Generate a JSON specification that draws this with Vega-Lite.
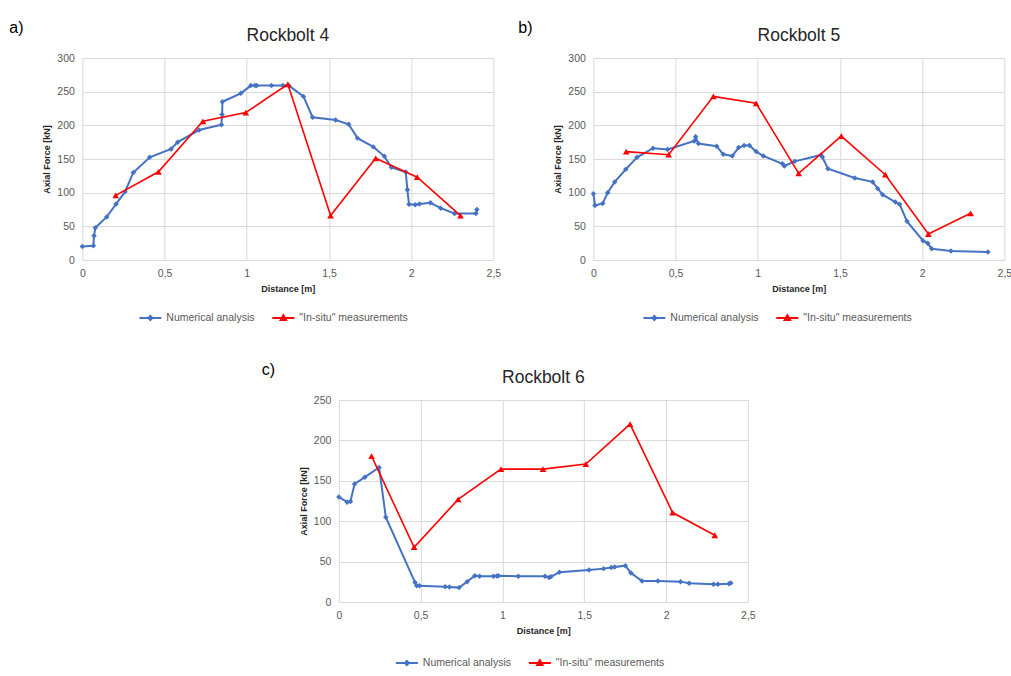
{
  "$schema": "https://vega.github.io/schema/vega-lite/v6.json",
  "padding": {"left": 9, "top": 19, "right": 0, "bottom": 0},
  "background": "white",
  "datasets": {
    "rb4": [
      {"d": 0, "f": 20, "s": "Numerical analysis"},
      {"d": 0.067, "f": 21, "s": "Numerical analysis"},
      {"d": 0.071, "f": 36, "s": "Numerical analysis"},
      {"d": 0.079, "f": 48, "s": "Numerical analysis"},
      {"d": 0.148, "f": 64, "s": "Numerical analysis"},
      {"d": 0.205, "f": 83, "s": "Numerical analysis"},
      {"d": 0.26, "f": 101.5, "s": "Numerical analysis"},
      {"d": 0.31, "f": 130, "s": "Numerical analysis"},
      {"d": 0.41, "f": 152.5, "s": "Numerical analysis"},
      {"d": 0.54, "f": 165, "s": "Numerical analysis"},
      {"d": 0.58, "f": 175, "s": "Numerical analysis"},
      {"d": 0.71, "f": 193, "s": "Numerical analysis"},
      {"d": 0.846, "f": 201, "s": "Numerical analysis"},
      {"d": 0.85, "f": 216, "s": "Numerical analysis"},
      {"d": 0.852, "f": 235, "s": "Numerical analysis"},
      {"d": 0.964, "f": 247.5, "s": "Numerical analysis"},
      {"d": 1.025, "f": 259, "s": "Numerical analysis"},
      {"d": 1.05, "f": 259, "s": "Numerical analysis"},
      {"d": 1.06, "f": 259, "s": "Numerical analysis"},
      {"d": 1.15, "f": 259, "s": "Numerical analysis"},
      {"d": 1.22, "f": 259, "s": "Numerical analysis"},
      {"d": 1.256, "f": 259, "s": "Numerical analysis"},
      {"d": 1.345, "f": 243, "s": "Numerical analysis"},
      {"d": 1.4, "f": 212, "s": "Numerical analysis"},
      {"d": 1.54, "f": 208, "s": "Numerical analysis"},
      {"d": 1.62, "f": 201.5, "s": "Numerical analysis"},
      {"d": 1.674, "f": 181, "s": "Numerical analysis"},
      {"d": 1.77, "f": 168, "s": "Numerical analysis"},
      {"d": 1.837, "f": 154, "s": "Numerical analysis"},
      {"d": 1.88, "f": 137.6, "s": "Numerical analysis"},
      {"d": 1.967, "f": 130.7, "s": "Numerical analysis"},
      {"d": 1.977, "f": 104.5, "s": "Numerical analysis"},
      {"d": 1.987, "f": 82.7, "s": "Numerical analysis"},
      {"d": 2.025, "f": 82, "s": "Numerical analysis"},
      {"d": 2.05, "f": 83, "s": "Numerical analysis"},
      {"d": 2.117, "f": 85, "s": "Numerical analysis"},
      {"d": 2.18, "f": 77, "s": "Numerical analysis"},
      {"d": 2.264, "f": 69, "s": "Numerical analysis"},
      {"d": 2.394, "f": 69, "s": "Numerical analysis"},
      {"d": 2.4, "f": 75, "s": "Numerical analysis"},
      {"d": 0.203, "f": 96, "s": "\"In-situ\" measurements"},
      {"d": 0.463, "f": 131, "s": "\"In-situ\" measurements"},
      {"d": 0.733, "f": 206, "s": "\"In-situ\" measurements"},
      {"d": 0.994, "f": 219, "s": "\"In-situ\" measurements"},
      {"d": 1.25, "f": 261, "s": "\"In-situ\" measurements"},
      {"d": 1.51, "f": 66, "s": "\"In-situ\" measurements"},
      {"d": 1.784, "f": 151, "s": "\"In-situ\" measurements"},
      {"d": 2.037, "f": 123, "s": "\"In-situ\" measurements"},
      {"d": 2.3, "f": 66, "s": "\"In-situ\" measurements"}
    ],
    "rb5": [
      {"d": 0, "f": 98.5, "s": "Numerical analysis"},
      {"d": 0.01, "f": 81, "s": "Numerical analysis"},
      {"d": 0.057, "f": 84, "s": "Numerical analysis"},
      {"d": 0.087, "f": 100, "s": "Numerical analysis"},
      {"d": 0.13, "f": 116, "s": "Numerical analysis"},
      {"d": 0.197, "f": 134.6, "s": "Numerical analysis"},
      {"d": 0.266, "f": 152.5, "s": "Numerical analysis"},
      {"d": 0.363, "f": 166, "s": "Numerical analysis"},
      {"d": 0.452, "f": 164, "s": "Numerical analysis"},
      {"d": 0.614, "f": 176.7, "s": "Numerical analysis"},
      {"d": 0.622, "f": 183, "s": "Numerical analysis"},
      {"d": 0.639, "f": 173, "s": "Numerical analysis"},
      {"d": 0.75, "f": 169, "s": "Numerical analysis"},
      {"d": 0.79, "f": 157, "s": "Numerical analysis"},
      {"d": 0.845, "f": 154.5, "s": "Numerical analysis"},
      {"d": 0.884, "f": 167, "s": "Numerical analysis"},
      {"d": 0.917, "f": 170, "s": "Numerical analysis"},
      {"d": 0.95, "f": 170, "s": "Numerical analysis"},
      {"d": 0.99, "f": 161, "s": "Numerical analysis"},
      {"d": 1.034, "f": 154.5, "s": "Numerical analysis"},
      {"d": 1.15, "f": 143, "s": "Numerical analysis"},
      {"d": 1.162, "f": 139.6, "s": "Numerical analysis"},
      {"d": 1.225, "f": 146.5, "s": "Numerical analysis"},
      {"d": 1.385, "f": 156, "s": "Numerical analysis"},
      {"d": 1.393, "f": 153, "s": "Numerical analysis"},
      {"d": 1.427, "f": 135.6, "s": "Numerical analysis"},
      {"d": 1.59, "f": 121.8, "s": "Numerical analysis"},
      {"d": 1.699, "f": 116, "s": "Numerical analysis"},
      {"d": 1.73, "f": 106, "s": "Numerical analysis"},
      {"d": 1.76, "f": 97, "s": "Numerical analysis"},
      {"d": 1.837, "f": 86, "s": "Numerical analysis"},
      {"d": 1.863, "f": 82.7, "s": "Numerical analysis"},
      {"d": 1.908, "f": 57.4, "s": "Numerical analysis"},
      {"d": 2.005, "f": 28.7, "s": "Numerical analysis"},
      {"d": 2.034, "f": 24.8, "s": "Numerical analysis"},
      {"d": 2.058, "f": 16.8, "s": "Numerical analysis"},
      {"d": 2.175, "f": 13.4, "s": "Numerical analysis"},
      {"d": 2.4, "f": 11.9, "s": "Numerical analysis"},
      {"d": 0.2, "f": 161, "s": "\"In-situ\" measurements"},
      {"d": 0.458, "f": 156.4, "s": "\"In-situ\" measurements"},
      {"d": 0.73, "f": 243, "s": "\"In-situ\" measurements"},
      {"d": 0.99, "f": 232.7, "s": "\"In-situ\" measurements"},
      {"d": 1.249, "f": 128.7, "s": "\"In-situ\" measurements"},
      {"d": 1.508, "f": 184, "s": "\"In-situ\" measurements"},
      {"d": 1.776, "f": 126.7, "s": "\"In-situ\" measurements"},
      {"d": 2.038, "f": 38.6, "s": "\"In-situ\" measurements"},
      {"d": 2.295, "f": 69.3, "s": "\"In-situ\" measurements"}
    ],
    "rb6": [
      {"d": 0, "f": 130, "s": "Numerical analysis"},
      {"d": 0.051, "f": 123.5, "s": "Numerical analysis"},
      {"d": 0.071, "f": 124.4, "s": "Numerical analysis"},
      {"d": 0.096, "f": 146, "s": "Numerical analysis"},
      {"d": 0.159, "f": 154.5, "s": "Numerical analysis"},
      {"d": 0.246, "f": 166.5, "s": "Numerical analysis"},
      {"d": 0.287, "f": 105, "s": "Numerical analysis"},
      {"d": 0.466, "f": 24, "s": "Numerical analysis"},
      {"d": 0.476, "f": 20, "s": "Numerical analysis"},
      {"d": 0.493, "f": 20, "s": "Numerical analysis"},
      {"d": 0.65, "f": 19, "s": "Numerical analysis"},
      {"d": 0.676, "f": 18.6, "s": "Numerical analysis"},
      {"d": 0.735, "f": 17.8, "s": "Numerical analysis"},
      {"d": 0.784, "f": 25, "s": "Numerical analysis"},
      {"d": 0.831, "f": 32.6, "s": "Numerical analysis"},
      {"d": 0.86, "f": 31.8, "s": "Numerical analysis"},
      {"d": 0.945, "f": 31.8, "s": "Numerical analysis"},
      {"d": 0.965, "f": 32.2, "s": "Numerical analysis"},
      {"d": 0.975, "f": 32.6, "s": "Numerical analysis"},
      {"d": 1.097, "f": 31.8, "s": "Numerical analysis"},
      {"d": 1.26, "f": 31.8, "s": "Numerical analysis"},
      {"d": 1.285, "f": 30.2, "s": "Numerical analysis"},
      {"d": 1.297, "f": 31.4, "s": "Numerical analysis"},
      {"d": 1.348, "f": 36.8, "s": "Numerical analysis"},
      {"d": 1.529, "f": 39.7, "s": "Numerical analysis"},
      {"d": 1.618, "f": 41.3, "s": "Numerical analysis"},
      {"d": 1.665, "f": 42.6, "s": "Numerical analysis"},
      {"d": 1.686, "f": 43.4, "s": "Numerical analysis"},
      {"d": 1.751, "f": 45, "s": "Numerical analysis"},
      {"d": 1.785, "f": 36, "s": "Numerical analysis"},
      {"d": 1.853, "f": 26, "s": "Numerical analysis"},
      {"d": 1.95, "f": 26, "s": "Numerical analysis"},
      {"d": 2.089, "f": 25.2, "s": "Numerical analysis"},
      {"d": 2.141, "f": 23.1, "s": "Numerical analysis"},
      {"d": 2.29, "f": 21.9, "s": "Numerical analysis"},
      {"d": 2.317, "f": 21.9, "s": "Numerical analysis"},
      {"d": 2.384, "f": 22.7, "s": "Numerical analysis"},
      {"d": 2.396, "f": 23.5, "s": "Numerical analysis"},
      {"d": 0.2, "f": 180.6, "s": "\"In-situ\" measurements"},
      {"d": 0.46, "f": 67.8, "s": "\"In-situ\" measurements"},
      {"d": 0.729, "f": 126.9, "s": "\"In-situ\" measurements"},
      {"d": 0.991, "f": 164.5, "s": "\"In-situ\" measurements"},
      {"d": 1.248, "f": 164.5, "s": "\"In-situ\" measurements"},
      {"d": 1.51, "f": 170.7, "s": "\"In-situ\" measurements"},
      {"d": 1.78, "f": 220.2, "s": "\"In-situ\" measurements"},
      {"d": 2.04, "f": 110.7, "s": "\"In-situ\" measurements"},
      {"d": 2.298, "f": 82.6, "s": "\"In-situ\" measurements"}
    ]
  },
  "vconcat": [
    {
      "hconcat": [
        {
          "title": {"text": "a)", "orient": "left", "anchor": "end", "angle": 0, "align": "right", "baseline": "top", "offset": 5, "dy": -7, "fontSize": 16, "color": "#000000", "frame": "bounds"},
          "vconcat": [
            {
              "width": 411, "height": 202,
              "title": {"text": "Rockbolt 4"},
              "data": {"name": "rb4"},
              "encoding": {
                "x": {"field": "d", "type": "quantitative", "scale": {"domain": [0, 2.5], "nice": false}, "axis": {"title": "Distance [m]", "values": [0, 0.5, 1, 1.5, 2, 2.5]}},
                "y": {"field": "f", "type": "quantitative", "scale": {"domain": [0, 300], "nice": false}, "axis": {"title": "Axial Force [kN]", "values": [0, 50, 100, 150, 200, 250, 300]}},
                "color": {"field": "s", "type": "nominal", "scale": {"domain": ["Numerical analysis", "\"In-situ\" measurements"], "range": ["#4472C4", "#FF0000"]},
                  "legend": {"orient": "none", "legendX": 56, "legendY": 248,
                    "encode": {"symbols": {"update": {
                      "shape": {"signal": "datum.value === 'Numerical analysis' ? 'M-1,0H1M0,-0.18L0.18,0L0,0.18L-0.18,0Z' : 'M-1,0H1M0,-0.24L0.24,0.18L-0.24,0.18Z'"},
                      "fill": {"signal": "datum.value === 'Numerical analysis' ? '#4472C4' : '#FF0000'"},
                      "stroke": {"signal": "datum.value === 'Numerical analysis' ? '#4472C4' : '#FF0000'"},
                      "fillOpacity": {"value": 1}, "opacity": {"value": 1}}}}}}
              },
              "layer": [
                {"transform": [{"filter": "datum.s == 'Numerical analysis'"}], "mark": {"type": "line", "strokeWidth": 2}, "encoding": {}},
                {"transform": [{"filter": "datum.s == 'Numerical analysis'"}], "mark": {"type": "point", "shape": "diamond", "filled": true, "size": 30, "opacity": 1}},
                {"transform": [{"filter": "datum.s != 'Numerical analysis'"}], "mark": {"type": "line", "strokeWidth": 1.6}, "encoding": {}},
                {"transform": [{"filter": "datum.s != 'Numerical analysis'"}], "mark": {"type": "point", "shape": "triangle-up", "filled": true, "size": 45, "opacity": 1}}
              ]
            }
          ],
          "resolve": {"scale": {"color": "independent"}, "legend": {"color": "independent"}}
        },
        {
          "title": {"text": "b)", "orient": "left", "anchor": "end", "angle": 0, "align": "right", "baseline": "top", "offset": 7, "dy": -7, "fontSize": 16, "color": "#000000", "frame": "bounds"},
          "vconcat": [
            {
              "width": 411, "height": 202,
              "title": {"text": "Rockbolt 5"},
              "data": {"name": "rb5"},
              "encoding": {
                "x": {"field": "d", "type": "quantitative", "scale": {"domain": [0, 2.5], "nice": false}, "axis": {"title": "Distance [m]", "values": [0, 0.5, 1, 1.5, 2, 2.5]}},
                "y": {"field": "f", "type": "quantitative", "scale": {"domain": [0, 300], "nice": false}, "axis": {"title": "Axial Force [kN]", "values": [0, 50, 100, 150, 200, 250, 300]}},
                "color": {"field": "s", "type": "nominal", "scale": {"domain": ["Numerical analysis", "\"In-situ\" measurements"], "range": ["#4472C4", "#FF0000"]},
                  "legend": {"orient": "none", "legendX": 49, "legendY": 248,
                    "encode": {"symbols": {"update": {
                      "shape": {"signal": "datum.value === 'Numerical analysis' ? 'M-1,0H1M0,-0.18L0.18,0L0,0.18L-0.18,0Z' : 'M-1,0H1M0,-0.24L0.24,0.18L-0.24,0.18Z'"},
                      "fill": {"signal": "datum.value === 'Numerical analysis' ? '#4472C4' : '#FF0000'"},
                      "stroke": {"signal": "datum.value === 'Numerical analysis' ? '#4472C4' : '#FF0000'"},
                      "fillOpacity": {"value": 1}, "opacity": {"value": 1}}}}}}
              },
              "layer": [
                {"transform": [{"filter": "datum.s == 'Numerical analysis'"}], "mark": {"type": "line", "strokeWidth": 2}, "encoding": {}},
                {"transform": [{"filter": "datum.s == 'Numerical analysis'"}], "mark": {"type": "point", "shape": "diamond", "filled": true, "size": 30, "opacity": 1}},
                {"transform": [{"filter": "datum.s != 'Numerical analysis'"}], "mark": {"type": "line", "strokeWidth": 1.6}, "encoding": {}},
                {"transform": [{"filter": "datum.s != 'Numerical analysis'"}], "mark": {"type": "point", "shape": "triangle-up", "filled": true, "size": 45, "opacity": 1}}
              ]
            }
          ],
          "resolve": {"scale": {"color": "independent"}, "legend": {"color": "independent"}}
        }
      ],
      "spacing": 17,
      "resolve": {"scale": {"color": "independent"}, "legend": {"color": "independent"}}
    },
    {
      "title": {"text": "c)", "orient": "left", "anchor": "end", "angle": 0, "align": "right", "baseline": "top", "offset": 11, "dy": -7, "fontSize": 16, "color": "#000000", "frame": "bounds"},
      "vconcat": [
        {
          "width": 409, "height": 202,
          "title": {"text": "Rockbolt 6"},
          "data": {"name": "rb6"},
          "encoding": {
            "x": {"field": "d", "type": "quantitative", "scale": {"domain": [0, 2.5], "nice": false}, "axis": {"title": "Distance [m]", "values": [0, 0.5, 1, 1.5, 2, 2.5]}},
            "y": {"field": "f", "type": "quantitative", "scale": {"domain": [0, 250], "nice": false}, "axis": {"title": "Axial Force [kN]", "values": [0, 50, 100, 150, 200, 250]}},
            "color": {"field": "s", "type": "nominal", "scale": {"domain": ["Numerical analysis", "\"In-situ\" measurements"], "range": ["#4472C4", "#FF0000"]},
              "legend": {"orient": "none", "legendX": 56, "legendY": 251,
                "encode": {"symbols": {"update": {
                  "shape": {"signal": "datum.value === 'Numerical analysis' ? 'M-1,0H1M0,-0.18L0.18,0L0,0.18L-0.18,0Z' : 'M-1,0H1M0,-0.24L0.24,0.18L-0.24,0.18Z'"},
                  "fill": {"signal": "datum.value === 'Numerical analysis' ? '#4472C4' : '#FF0000'"},
                  "stroke": {"signal": "datum.value === 'Numerical analysis' ? '#4472C4' : '#FF0000'"},
                  "fillOpacity": {"value": 1}, "opacity": {"value": 1}}}}}}
          },
          "layer": [
            {"transform": [{"filter": "datum.s == 'Numerical analysis'"}], "mark": {"type": "line", "strokeWidth": 2}, "encoding": {}},
            {"transform": [{"filter": "datum.s == 'Numerical analysis'"}], "mark": {"type": "point", "shape": "diamond", "filled": true, "size": 30, "opacity": 1}},
            {"transform": [{"filter": "datum.s != 'Numerical analysis'"}], "mark": {"type": "line", "strokeWidth": 1.6}, "encoding": {}},
            {"transform": [{"filter": "datum.s != 'Numerical analysis'"}], "mark": {"type": "point", "shape": "triangle-up", "filled": true, "size": 45, "opacity": 1}}
          ]
        }
      ],
      "resolve": {"scale": {"color": "independent"}, "legend": {"color": "independent"}}
    }
  ],
  "spacing": 37,
  "center": true,
  "resolve": {"scale": {"color": "independent"}, "legend": {"color": "independent"}},
  "config": {
    "font": "Liberation Sans",
    "view": {"stroke": null},
    "axis": {
      "grid": true, "gridColor": "#d9d9d9", "gridWidth": 1, "domain": false, "ticks": false,
      "labelColor": "#595959", "labelFontSize": 10.5, "labelPadding": 8, "labelFlush": false, "labelOverlap": false,
      "titleFontSize": 9, "titleFontWeight": "bold", "titleColor": "#262626", "titlePadding": 5,
      "labelExpr": "replace(format(datum.value, '~g'), '.', ',')"
    },
    "axisX": {"titlePadding": 6},
    "legend": {
      "direction": "horizontal", "title": null, "labelFontSize": 10.5, "labelColor": "#595959",
      "symbolSize": 484, "symbolStrokeWidth": 2, "columnPadding": 13, "labelOffset": 4
    },
    "title": {"fontSize": 17.5, "fontWeight": "normal", "color": "#262626", "offset": 9, "anchor": "middle"}
  }
}
